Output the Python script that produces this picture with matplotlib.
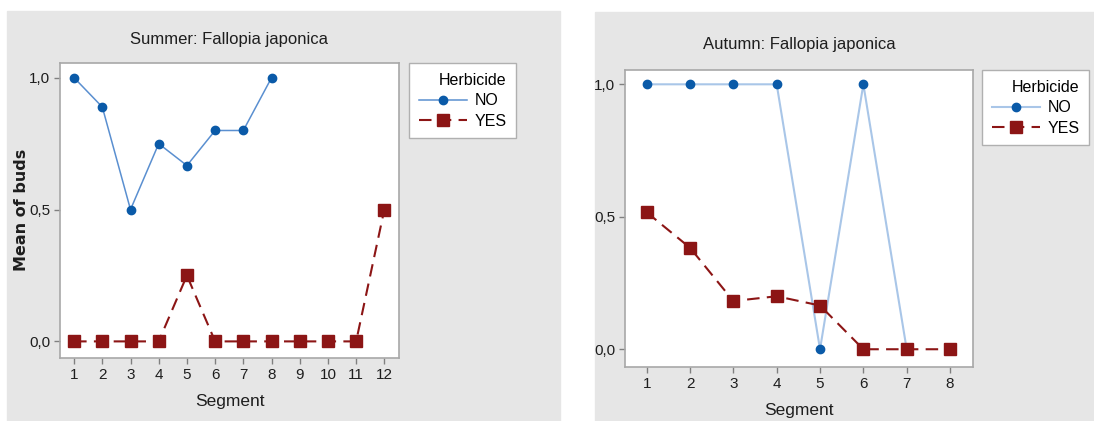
import numpy as np
import matplotlib.pyplot as plt
from matplotlib.patches import Rectangle
from matplotlib.ticker import FuncFormatter

plt.rcParams['font.family'] = ['Liberation Sans', 'DejaVu Sans']

# summer data
summer_seg_no = [1, 2, 3, 4, 5, 6, 7, 8]
summer_no = [1.0, 0.889, 0.5, 0.75, 0.667, 0.8, 0.8, 1.0]
summer_seg_yes = [1, 2, 3, 4, 5, 6, 7, 8, 9, 10, 11, 12]
summer_yes = [0, 0, 0, 0, 0.25, 0, 0, 0, 0, 0, 0, 0.5]

# autumn data
autumn_seg = [1, 2, 3, 4, 5, 6, 7, 8]
autumn_no = [1, 1, 1, 1, 0, 1, 0]
autumn_yes = [0.517, 0.383, 0.182, 0.2, 0.165, 0, 0, 0]

W, H = 1094, 421
fig = plt.figure(figsize=(W / 100, H / 100), dpi=100)
fig.patch.set_facecolor('white')

gray = '#e6e6e6'
fig.patches.append(Rectangle((7 / W, 0), (560 - 7) / W, 1 - 11 / H,
                             transform=fig.transFigure, color=gray, zorder=-10))
fig.patches.append(Rectangle((595 / W, 0), (W - 595) / W, 1 - 12 / H,
                             transform=fig.transFigure, color=gray, zorder=-10))

blue_mk = '#0a5aa8'
red = '#8c1515'
txt = '#1e1e1e'
fmt = FuncFormatter(lambda v, p: ('%.1f' % v).replace('.', ','))


def style(ax, xticks, xlim, ylim):
    ax.set_facecolor('white')
    ax.set_xlim(*xlim)
    ax.set_ylim(*ylim)
    ax.set_xticks(xticks)
    ax.set_yticks([0, 0.5, 1.0])
    ax.yaxis.set_major_formatter(fmt)
    for s in ax.spines.values():
        s.set_color('#a8a8a8')
        s.set_linewidth(1.2)
    ax.tick_params(colors='#808080', labelcolor=txt, labelsize=11,
                   length=4, width=1, pad=3)
    ax.set_xlabel('Segment', fontsize=12.5, color=txt, labelpad=9)


def legend(ax, anchor):
    lg = ax.legend(title='Herbicide', loc='upper left', bbox_to_anchor=anchor,
                   bbox_transform=fig.transFigure, borderaxespad=0,
                   fontsize=11.5, title_fontsize=11.5, frameon=True,
                   fancybox=False, framealpha=1, edgecolor='#b0b0b0',
                   handlelength=3.0, borderpad=0.6, alignment='right',
                   labelspacing=0.35, handletextpad=0.5)
    lg.get_frame().set_linewidth(1.0)


# left panel
ax1 = fig.add_axes([60 / W, 1 - 358 / H, 339 / W, 295 / H])
ax1.plot(summer_seg_no, summer_no, '-o', color='#5a8fd0', lw=1.1,
         markerfacecolor=blue_mk, markeredgecolor=blue_mk, ms=6, label='NO')
ax1.plot(summer_seg_yes, summer_yes, '--s', color=red, lw=1.5,
         dashes=(6, 3.5), ms=9, label='YES')
style(ax1, summer_seg_yes, (0.5, 12.52), (-0.063, 1.056))
ax1.set_title('Summer: Fallopia japonica', fontsize=12, color=txt, pad=14)
fig.text(22 / W, 1 - 210 / H, 'Mean of buds', rotation=90, ha='center',
         va='center', fontsize=11.5, fontweight='bold', family='DejaVu Sans',
         color=txt)
legend(ax1, (409 / W, 1 - 63 / H))

# right panel
ax2 = fig.add_axes([625 / W, 1 - 367 / H, 348 / W, 297 / H])
ax2.plot(autumn_seg[:len(autumn_no)], autumn_no, '-o', color='#a9c6e8',
         lw=1.5, markerfacecolor=blue_mk, markeredgecolor=blue_mk, ms=6,
         label='NO')
ax2.plot(autumn_seg, autumn_yes, '--s', color=red, lw=1.5, dashes=(6, 3.5),
         ms=9, label='YES')
style(ax2, autumn_seg, (0.5, 8.53), (-0.067, 1.054))
ax2.set_title('Autumn: Fallopia japonica', fontsize=12, color=txt, pad=15)
legend(ax2, (982 / W, 1 - 70 / H))

fig.savefig('out.png', dpi=100, facecolor='white')
